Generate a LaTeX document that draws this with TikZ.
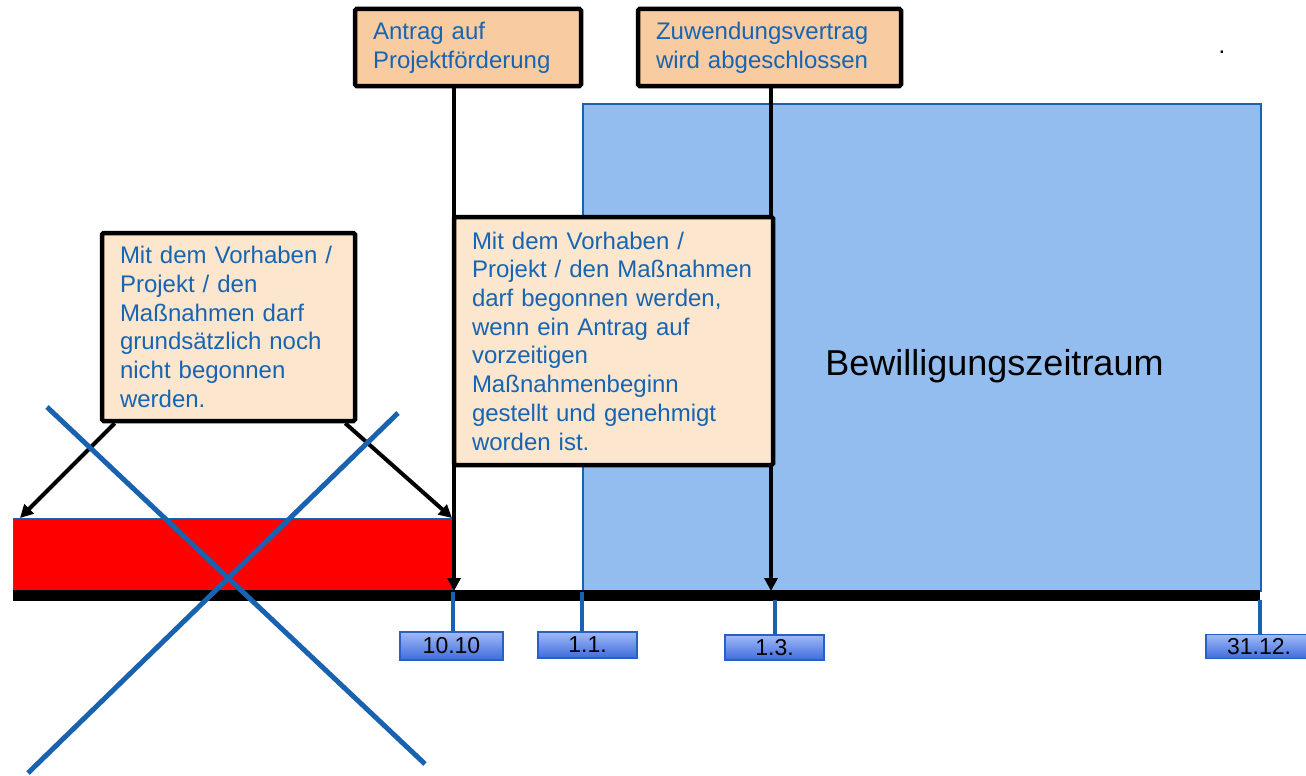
\documentclass[tikz,border=0pt]{standalone}
\usepackage{fontspec}
\setmainfont{Liberation Sans}
\usetikzlibrary{arrows.meta,calc}
\hyphenpenalty=10000
\exhyphenpenalty=10000
\definecolor{peach}{RGB}{248,203,160}
\definecolor{lightpeach}{RGB}{252,230,205}
\definecolor{periodblue}{RGB}{147,189,238}
\definecolor{txtblue}{RGB}{22,101,180}
\definecolor{lineblue}{RGB}{25,98,176}
\definecolor{lbltop}{RGB}{160,186,248}
\definecolor{lblbot}{RGB}{62,108,220}
\definecolor{lblborder}{RGB}{40,96,196}
\begin{document}
\begin{tikzpicture}[x=1pt,y=-1pt,
  textbox/.style={draw=black, line width=4.5pt, rounded corners=1.5pt, text=txtblue,
    align=left, inner xsep=18pt, inner ysep=0pt,
    font=\fontsize{24}{28.7}\selectfont, anchor=center},
  datelbl/.style={draw=lblborder, line width=1.2pt, top color=lbltop, bottom color=lblbot,
    text=black, font=\fontsize{23}{27}\selectfont, inner sep=0pt, anchor=center},
  datetick/.style={draw=lineblue, line width=4pt},
  pointer/.style={draw=black, line width=4pt, -{Triangle[length=13pt,width=13pt]}},
  crossline/.style={draw=lineblue, line width=5pt},
  axisline/.style={draw=black, line width=11pt}]
\useasboundingbox (0,0) rectangle (1306,776);

% Bewilligungszeitraum area
\node[draw=lineblue, line width=2pt, fill=periodblue, inner sep=0pt,
  minimum width=678pt, minimum height=487pt, anchor=north west] (bz) at (582,103) {};
\node[font=\fontsize{36}{43}\selectfont, anchor=base] (bzt) at (994.5,375) {Bewilligungszeitraum};

% red bar
\node[fill=red, draw=lineblue, line width=1pt, inner sep=0pt,
  minimum width=439pt, minimum height=72pt, anchor=north west] (red) at (13,518) {};

% axis
\coordinate (axl) at (13,595.5);
\coordinate (axr) at (1260,595.5);
\draw[axisline] (axl) -- (axr);

% tick anchor points on the axis
\coordinate (t1010) at (453,592);
\coordinate (t11) at (582,592);
\coordinate (t13) at (775,600);
\coordinate (t3112) at (1260,600);
\coordinate (p1) at (454,591);
\coordinate (p2) at (771,591);

% top boxes
\node[textbox, fill=peach, text width=190pt, minimum height=77pt] (b1) at (468,47.5)
  {Antrag auf\\Projektförderung};
\node[textbox, fill=peach, text width=227pt, minimum height=77pt] (b2) at (769.5,47.5)
  {Zuwendungsvertrag\\wird abgeschlossen};

% vertical pointers
\draw[pointer] (b1.south -| p1) -- (p1);
\draw[pointer] (b2.south -| p2) -- (p2);

% middle box
\node[textbox, fill=lightpeach, text width=283pt, minimum height=248pt] (b3) at (613.5,341)
  {Mit dem Vorhaben /\\Projekt / den Maßnahmen\\darf begonnen werden,\\wenn ein Antrag auf\\vorzeitigen\\Maßnahmenbeginn\\gestellt und genehmigt\\worden ist.};

% left box
\node[textbox, fill=lightpeach, text width=217pt, minimum height=188pt] (b4) at (228.5,327)
  {Mit dem Vorhaben /\\Projekt / den\\Maßnahmen darf\\grundsätzlich noch\\nicht begonnen\\werden.};

\draw[pointer] ($(b4.south west)+(15,0)$) -- ($(red.north west)+(7,0)$);
\draw[pointer] ($(b4.south east)+(-12,0)$) -- ($(red.north east)+(-1,0)$);

% date labels
\node[datelbl, minimum width=103pt, minimum height=28pt] (l1010) at (451.5,646) {10.10};
\node[datelbl, minimum width=99pt, minimum height=26pt] (l11) at (587.5,645) {1.1.};
\node[datelbl, minimum width=99pt, minimum height=25pt] (l13) at (774.5,647.5) {1.3.};
\node[datelbl, minimum width=106pt, minimum height=24pt] (l3112) at (1259,646.5) {31.12.};

\draw[datetick] (t1010) -- (t1010 |- l1010.north);
\draw[datetick] (t11) -- (t11 |- l11.north);
\draw[datetick] (t13) -- (t13 |- l13.north);
\draw[datetick] (t3112) -- (t3112 |- l3112.north);

% cross
\coordinate (c1a) at (47,407);
\coordinate (c1b) at (425,764);
\coordinate (c2a) at (398,413);
\coordinate (c2b) at (28,773);
\draw[crossline] (c1a) -- (c1b);
\draw[crossline] (c2a) -- (c2b);

% stray dot
\node[font=\fontsize{24}{28}\selectfont, anchor=base, inner sep=0pt] (dot) at (1222,54) {.};
\end{tikzpicture}
\end{document}
